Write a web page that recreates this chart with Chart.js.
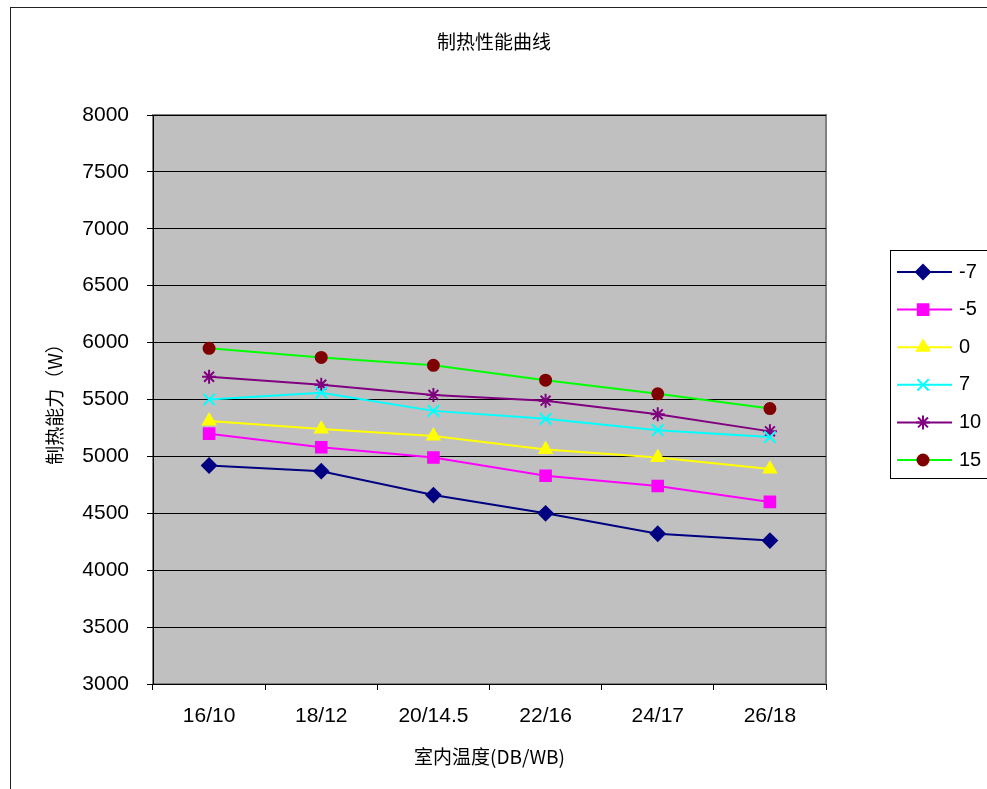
<!DOCTYPE html>
<html>
<head>
<meta charset="utf-8">
<script src="https://cdn.jsdelivr.net/npm/chart.js@4/dist/chart.umd.min.js"></script>
<style>
  body { margin: 0; background: #fff; }
</style>
</head>
<body>
<canvas id="chart" width="987" height="789"></canvas>
<script>
// values
const categories = ['16/10', '18/12', '20/14.5', '22/16', '24/17', '26/18']
const seriesNames = ['-7', '-5', '0', '7', '10', '15']
const valuesM7 = [4920, 4870, 4660, 4500, 4320, 4260]
const valuesM5 = [5200, 5080, 4990, 4830, 4740, 4600]
const values0 = [5310, 5240, 5180, 5060, 4990, 4890]
const values7 = [5500, 5560, 5400, 5330, 5230, 5170]
const values10 = [5700, 5630, 5540, 5490, 5370, 5220]
const values15 = [5950, 5870, 5800, 5670, 5550, 5420]
const yMin = 3000
const yMax = 8000
const yStep = 500

// looks of each series (Excel default style)
const lineColors = ['#000080', '#ff00ff', '#ffff00', '#00ffff', '#800080', '#00ff00']
const markerColors = ['#000080', '#ff00ff', '#ffff00', '#00ffff', '#800080', '#800000']
const markerStyles = ['rectRot', 'rect', 'triangle', 'crossRot', 'star', 'circle']
const markerSizes = [7, 7.5, 7, 8, 7, 5.5]

const allValues = [valuesM7, valuesM5, values0, values7, values10, values15]
const datasets = allValues.map((vals, i) => ({
    label: seriesNames[i],
    data: vals,
    borderColor: lineColors[i],
    borderWidth: 2,
    pointStyle: markerStyles[i],
    pointRadius: markerSizes[i],
    pointHoverRadius: markerSizes[i],
    pointBackgroundColor: markerColors[i],
    pointBorderColor: markerColors[i],
    pointBorderWidth: 2,
    tension: 0,
    fill: false
}))

const labelFont = { family: '"Liberation Sans", Arial, sans-serif', size: 21 }
const cjkFont = '"Noto Sans CJK SC", sans-serif'

// grey plot area, outer frame, title and the boxed legend on the right
const excelLook = {
    id: 'excelLook',
    beforeDraw(chart) {
        const ctx = chart.ctx
        const a = chart.chartArea
        ctx.save()
        ctx.fillStyle = '#fff'
        ctx.fillRect(0, 0, chart.width, chart.height)
        ctx.strokeStyle = '#222'
        ctx.lineWidth = 1
        ctx.strokeRect(10.5, 7.5, chart.width + 20, chart.height + 20)
        ctx.fillStyle = '#c0c0c0'
        ctx.fillRect(a.left, a.top, a.right - a.left, a.bottom - a.top)
        ctx.strokeStyle = '#808080'
        ctx.lineWidth = 2
        ctx.strokeRect(a.left, a.top, a.right - a.left, a.bottom - a.top)
        ctx.fillStyle = '#000'
        ctx.font = '19px ' + cjkFont
        ctx.textAlign = 'center'
        ctx.textBaseline = 'middle'
        ctx.fillText('制热性能曲线', 494, 42)
        ctx.restore()
    },
    afterDraw(chart) {
        const ctx = chart.ctx
        ctx.save()
        ctx.strokeStyle = '#000'
        ctx.lineWidth = 1
        ctx.strokeRect(890.5, 250.5, 200, 228)
        chart.data.datasets.forEach((ds, i) => {
            const y = 272 + i * 37.6
            ctx.strokeStyle = ds.borderColor
            ctx.lineWidth = 2
            ctx.beginPath()
            ctx.moveTo(897, y)
            ctx.lineTo(952, y)
            ctx.stroke()
            ctx.fillStyle = ds.pointBackgroundColor
            ctx.strokeStyle = ds.pointBorderColor
            Chart.helpers.drawPoint(ctx, {
                pointStyle: ds.pointStyle,
                radius: ds.pointRadius,
                borderWidth: 2,
                rotation: 0
            }, 923, y)
            ctx.fillStyle = '#000'
            ctx.font = '20px ' + labelFont.family
            ctx.textAlign = 'left'
            ctx.textBaseline = 'middle'
            ctx.fillText(ds.label, 959, y)
        })
        ctx.restore()
    }
}

new Chart(document.getElementById('chart'), {
    type: 'line',
    data: { labels: categories, datasets: datasets },
    options: {
        responsive: false,
        animation: false,
        devicePixelRatio: 1,
        layout: { padding: { left: 10, top: 115, right: 161, bottom: 0 } },
        plugins: {
            legend: { display: false },
            title: { display: false },
            tooltip: { enabled: false }
        },
        scales: {
            x: {
                offset: true,
                grid: { offset: true, drawOnChartArea: false, color: '#000', tickLength: 6 },
                border: { color: '#000', width: 1 },
                ticks: { color: '#000', font: labelFont, padding: 14, maxRotation: 0 },
                title: {
                    display: true,
                    text: '室内温度(DB/WB)',
                    color: '#000',
                    font: { family: cjkFont, size: 19 },
                    padding: { top: 0, bottom: 21 }
                },
                afterFit(scale) { scale.height = 105 }
            },
            y: {
                min: yMin,
                max: yMax,
                ticks: {
                    stepSize: yStep,
                    color: '#000',
                    font: labelFont,
                    padding: 18,
                    callback: v => String(v)
                },
                grid: { color: '#000', tickLength: 6 },
                border: { color: '#000', width: 1 },
                title: {
                    display: true,
                    text: '制热能力（W）',
                    color: '#000',
                    font: { family: cjkFont, size: 19 },
                    padding: { top: 33, bottom: 0 }
                },
                afterFit(scale) { scale.width = 143 }
            }
        }
    },
    plugins: [excelLook]
})
</script>
</body>
</html>
